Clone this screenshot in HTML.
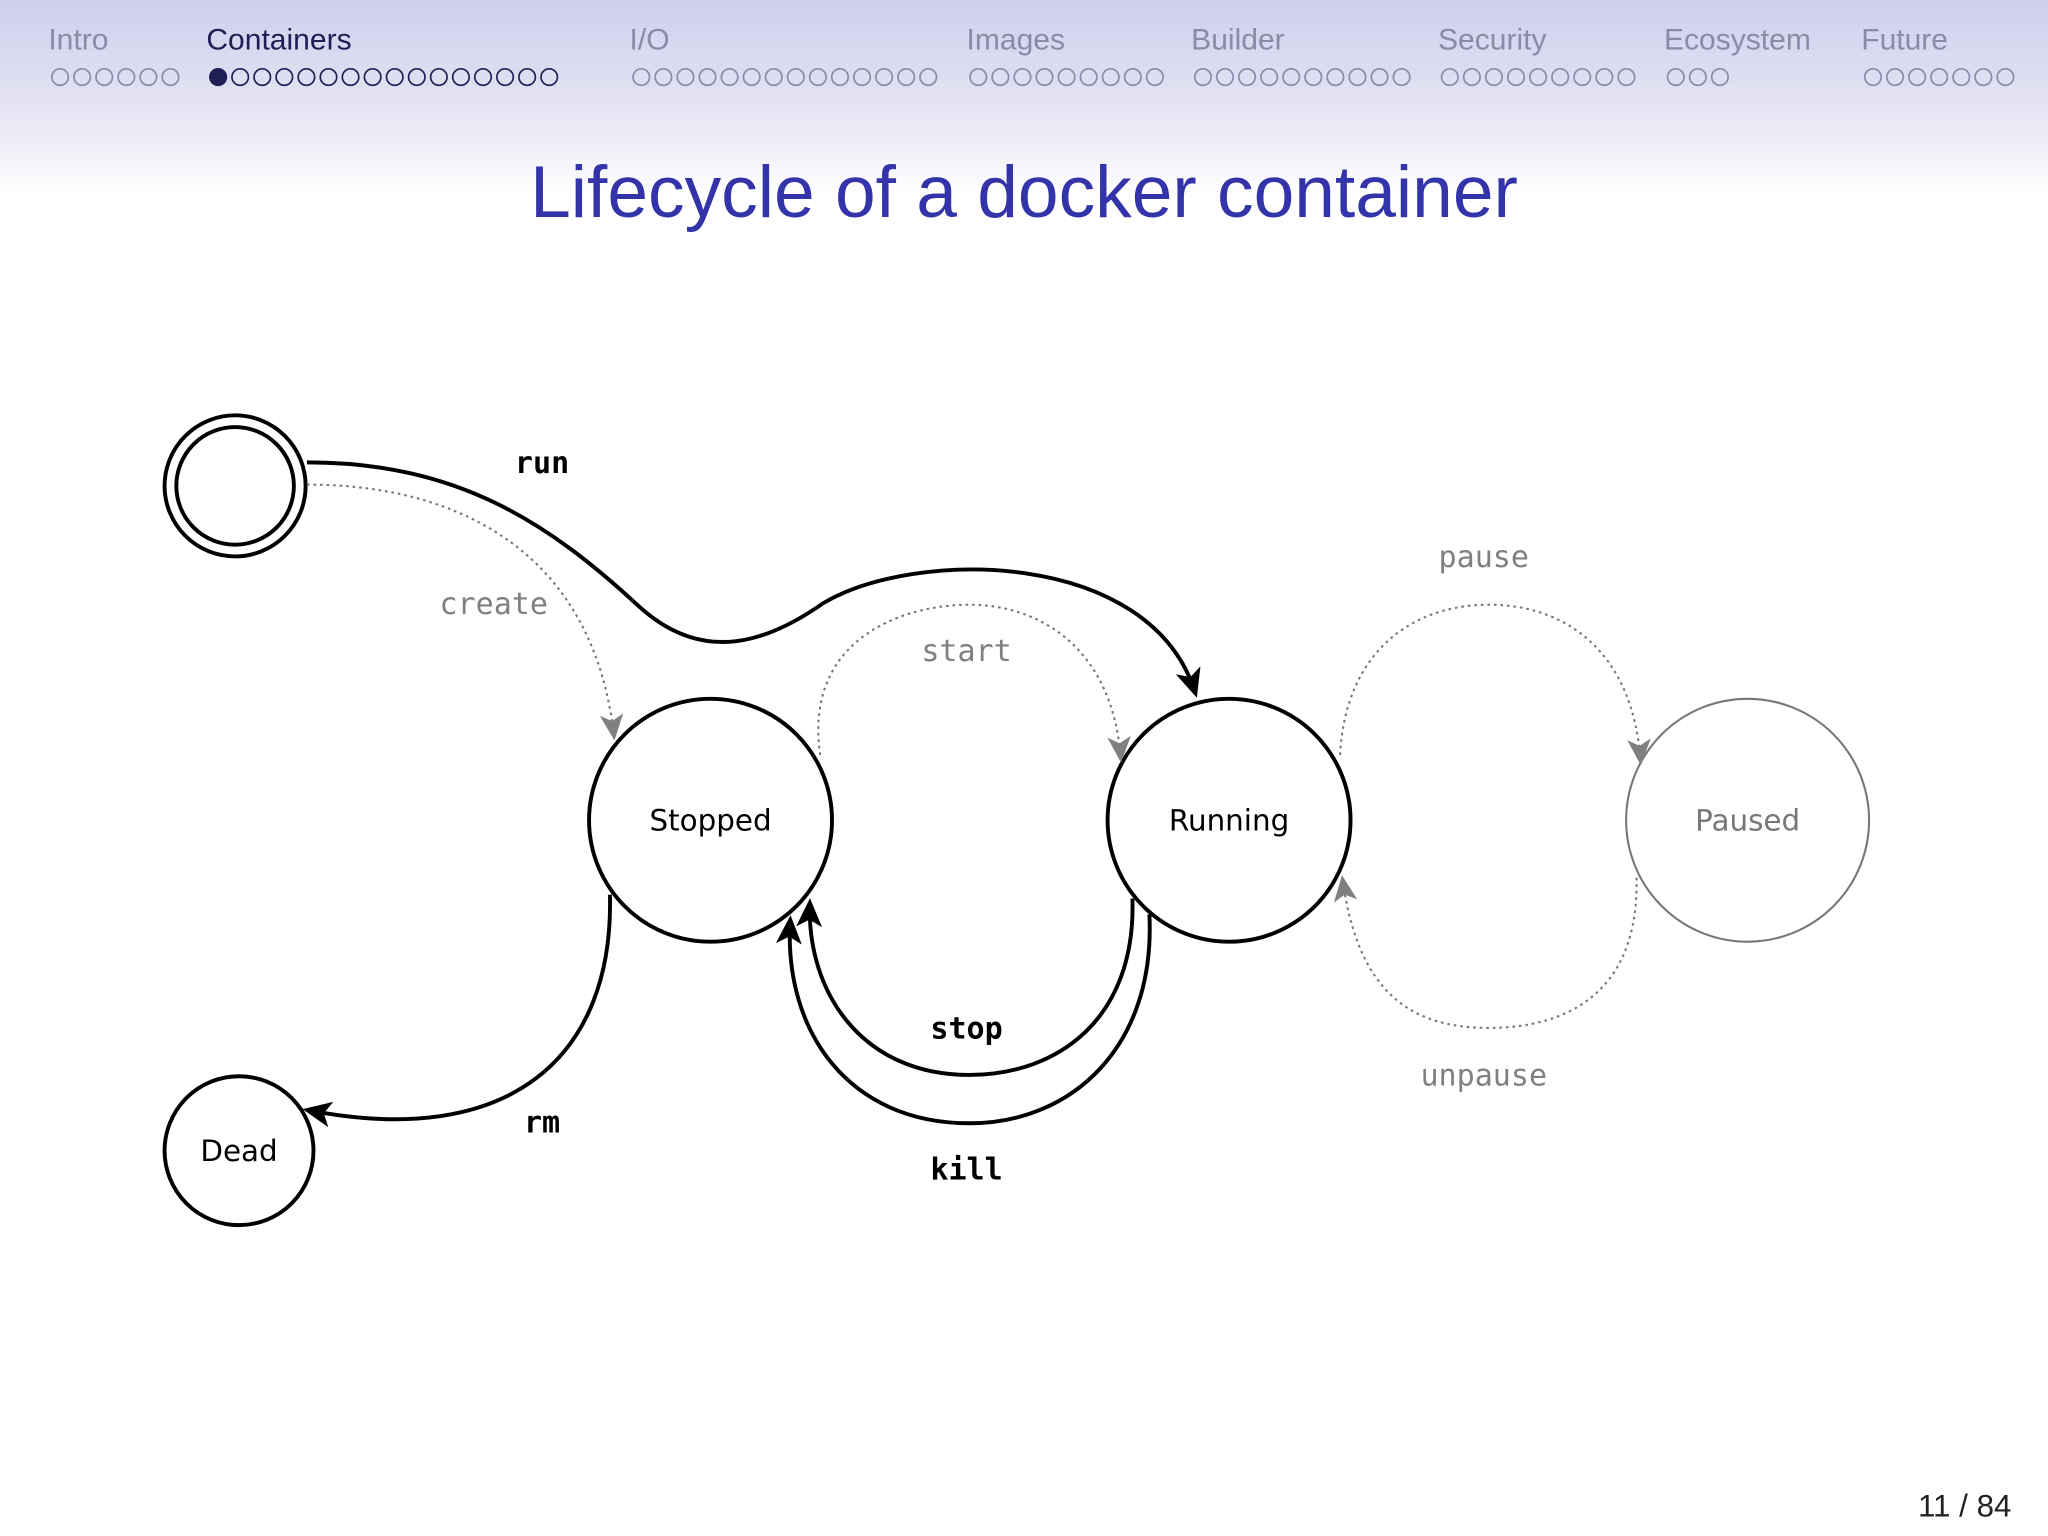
<!DOCTYPE html>
<html><head><meta charset="utf-8"><style>
html,body{margin:0;padding:0;background:#fff}
svg{display:block}
</style></head><body>
<svg width="2048" height="1536" viewBox="0 0 1568 1176" xmlns="http://www.w3.org/2000/svg">
<defs>
<linearGradient id="hg" x1="0" y1="0" x2="0" y2="1">
<stop offset="0" stop-color="#cfcfec"/><stop offset="0.55" stop-color="#e4e4f4"/><stop offset="1" stop-color="#ffffff"/>
</linearGradient>
<marker id="ab" viewBox="0 0 20 20" refX="16" refY="10" markerWidth="22" markerHeight="22" markerUnits="userSpaceOnUse" orient="auto">
<path d="M0,1 L20,10 L0,19 L5,10 Z" fill="#000"/></marker>
<marker id="ag" viewBox="0 0 20 20" refX="16" refY="10" markerWidth="20" markerHeight="20" markerUnits="userSpaceOnUse" orient="auto">
<path d="M0,1 L20,10 L0,19 L5,10 Z" fill="#808080"/></marker>
</defs>
<rect x="0" y="0" width="1568" height="150" fill="url(#hg)"/>
<g font-family="Liberation Sans, sans-serif" font-size="23" fill="#8a8aaa">
<text x="37" y="38">Intro</text>
<text x="158" y="38" fill="#1f1f55">Containers</text>
<text x="482" y="38">I/O</text>
<text x="740" y="38">Images</text>
<text x="912" y="38">Builder</text>
<text x="1101" y="38">Security</text>
<text x="1274" y="38">Ecosystem</text>
<text x="1425" y="38">Future</text>
</g>
<g id="dots" fill="none" stroke="#8a8aaa" stroke-width="1.3"></g>
<text x="784" y="166" text-anchor="middle" font-family="Liberation Sans, sans-serif" font-size="56" fill="#3333aa">Lifecycle of a docker container</text>

<g fill="#fff" stroke="#000" stroke-width="3">
<circle cx="180" cy="372" r="54"/>
<circle cx="180" cy="372" r="45"/>
<circle cx="544" cy="628" r="93"/>
<circle cx="941" cy="628" r="93"/>
<circle cx="183" cy="881" r="57"/>
</g>
<circle cx="1338" cy="628" r="93" fill="#fff" stroke="#777" stroke-width="1.6"/>
<g font-family="DejaVu Sans, Liberation Sans, sans-serif" font-size="22.5" text-anchor="middle">
<text x="544" y="636">Stopped</text>
<text x="941" y="636">Running</text>
<text x="1338" y="636" fill="#777">Paused</text>
<text x="183" y="889">Dead</text>
</g>

<g fill="none" stroke="#000" stroke-width="3">
<path d="M235,354 C350,354 420,400 490,465 C540,510 590,490 630,462 C700,420 880,420 915,530" marker-end="url(#ab)"/>
<path d="M867,688 C870,780 810,823 742,823 C660,823 618,760 620,692" marker-end="url(#ab)"/>
<path d="M880,700 C885,800 822,860 742,860 C650,860 600,790 605,705" marker-end="url(#ab)"/>
<path d="M467,685 C470,810 390,880 236,850" marker-end="url(#ab)"/>
</g>
<g fill="none" stroke="#777" stroke-width="1.6" stroke-dasharray="2,3">
<path d="M235,371 C360,371 455,430 470,563" marker-end="url(#ag)"/>
<path d="M628,578 C615,490 690,463 742,463 C800,463 852,500 858,580" marker-end="url(#ag)"/>
<path d="M1026,578 C1030,500 1080,463 1140,463 C1200,463 1250,500 1256,582" marker-end="url(#ag)"/>
<path d="M1253,672 C1255,760 1200,787 1140,787 C1080,787 1040,760 1028,674" marker-end="url(#ag)"/>
</g>
<g font-family="DejaVu Sans Mono, Liberation Mono, monospace" font-size="23" text-anchor="middle">
<text x="415" y="362" font-weight="bold">run</text>
<text x="378" y="470" fill="#808080">create</text>
<text x="740" y="506" fill="#808080">start</text>
<text x="1136" y="434" fill="#808080">pause</text>
<text x="1136" y="831" fill="#808080">unpause</text>
<text x="740" y="795" font-weight="bold">stop</text>
<text x="740" y="903" font-weight="bold">kill</text>
<text x="415" y="867" font-weight="bold">rm</text>
</g>
<text x="1540" y="1161" text-anchor="end" font-family="Liberation Sans, sans-serif" font-size="24" fill="#222">11 / 84</text>
</svg>
<script>
var g=document.getElementById('dots');
var secs=[[46,6],[167,16],[491,14],[749,9],[921,10],[1110,9],[1283,3],[1434,7]];
var ns='http://www.w3.org/2000/svg';
secs.forEach(function(s,i){for(var k=0;k<s[1];k++){var c=document.createElementNS(ns,'circle');c.setAttribute('cx',s[0]+k*16.9);c.setAttribute('cy',59);c.setAttribute('r',6.3);if(i==1){c.setAttribute('stroke','#1f1f55');if(k==0)c.setAttribute('fill','#1f1f55');}g.appendChild(c);}});
</script>
</body></html>
